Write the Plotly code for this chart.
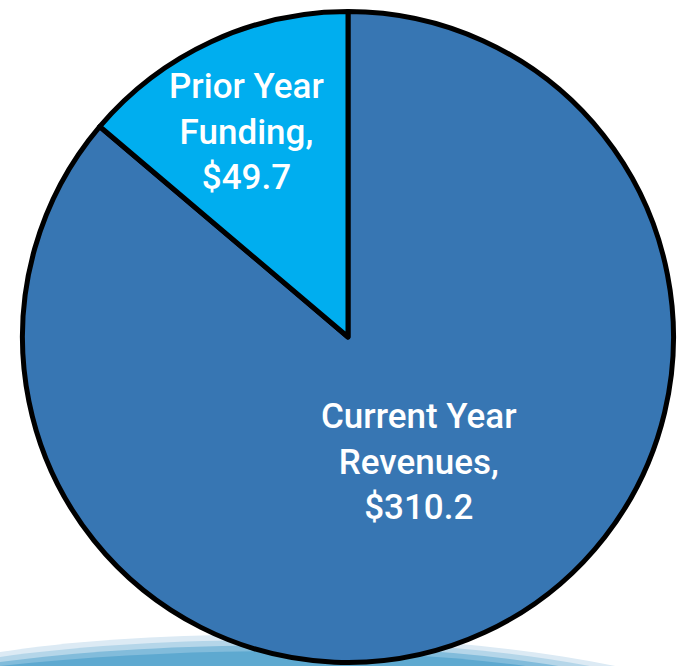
import plotly.graph_objects as go

# Funding sources (millions of dollars)
labels = ["Current Year Revenues", "Prior Year Funding"]
label_lines = ["Current Year<br>Revenues,", "Prior Year<br>Funding,"]
values = [310.2, 49.7]
colors = ["#3776B3", "#00AEEF"]

W, H = 684, 666

fig = go.Figure(
    go.Pie(
        labels=labels,
        values=values,
        sort=False,
        direction="clockwise",
        rotation=0,
        marker=dict(colors=colors, line=dict(color="black", width=5)),
        textinfo="none",
        hoverinfo="label+value",
        showlegend=False,
        domain=dict(x=[22.5 / W, 673.5 / W], y=[3.5 / H, 654.5 / H]),
    )
)

# Slice labels, positioned in pixel space
label_pos = [(419, 462), (246, 132)]
annotations = []
for disp, v, (px, py) in zip(label_lines, values, label_pos):
    annotations.append(
        dict(
            text=f"{disp}<br>${v:.1f}",
            x=px / W,
            y=1 - py / H,
            xref="paper",
            yref="paper",
            showarrow=False,
            xanchor="center",
            yanchor="middle",
            align="center",
            font=dict(family="Roboto, Arial, sans-serif", size=35, color="white", weight=500),
        )
    )


def swoosh(y0, c1, c2, xr):
    """Filled curved band along the bottom edge, defined in pixels."""
    def p(x, y):
        return f"{x / W:.5f},{1 - y / H:.5f}"
    return (
        f"M {p(0, y0)} C {p(*c1)} {p(*c2)} {p(xr, 668)} "
        f"L {p(0, 668)} Z"
    )


bands = [
    (652, (150, 628), (420, 625), 625, "#DCEAF4"),
    (657, (160, 634), (420, 632), 600, "#B5D6E9"),
    (662, (170, 640), (400, 638), 570, "#82BCDB"),
    (666, (180, 647), (380, 645), 540, "#5EA9D0"),
]
shapes = [
    dict(
        type="path",
        path=swoosh(y0, c1, c2, xr),
        xref="paper",
        yref="paper",
        fillcolor=col,
        line=dict(width=0),
        layer="below",
    )
    for y0, c1, c2, xr, col in bands
]

fig.update_layout(
    width=W,
    height=H,
    margin=dict(l=0, r=0, t=0, b=0),
    paper_bgcolor="white",
    plot_bgcolor="white",
    annotations=annotations,
    shapes=shapes,
)

fig.write_html("out.html")
